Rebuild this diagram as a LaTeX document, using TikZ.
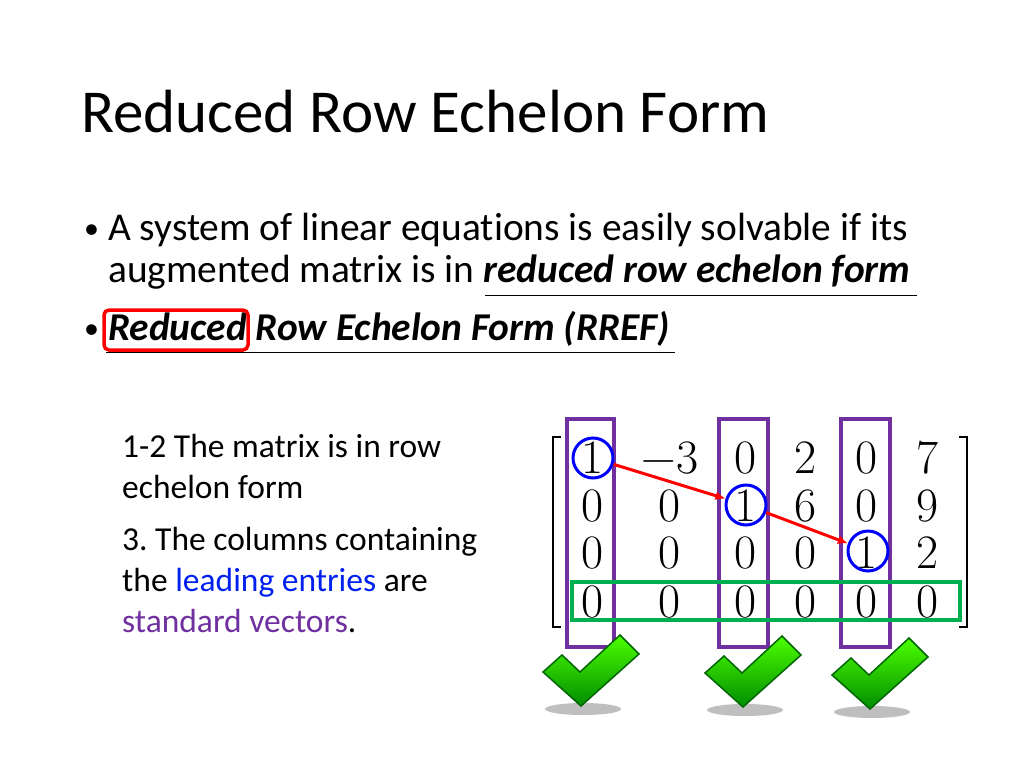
\documentclass[tikz,border=0pt]{standalone}
\usepackage{fontspec}
\setmainfont[Ligatures={NoCommon,NoRare}]{Carlito}
\newfontfamily\mathlike{Latin Modern Roman}
\usetikzlibrary{arrows.meta}
\definecolor{purp}{RGB}{112,48,160}
\definecolor{grn}{RGB}{0,176,80}
\definecolor{lblue}{RGB}{0,32,240}
\frenchspacing
\begin{document}
\begin{tikzpicture}[x=1pt,y=-1pt,
  txt/.style={anchor=base west,inner sep=0pt,font=\fontsize{39.4}{40}\selectfont},
  small/.style={anchor=base west,inner sep=0pt,font=\fontsize{33.5}{34}\selectfont},
  ent/.style={inner sep=0pt,font=\mathlike\fontsize{48}{48}\selectfont},
  colbox/.style={draw=purp,line width=3.5pt},
  circ/.style={draw=blue,line width=3pt,circle,minimum size=40pt,inner sep=0pt},
  arr/.style={draw=red,line width=3pt,-{Latex[length=10pt,width=9pt]}},
  chk/.style={draw=green!40!black,line width=1.5pt,top color=green!70!yellow,bottom color=green!55!black}]
\useasboundingbox[fill=white] (0,0) rectangle (1024,768);
\node[anchor=base west,inner sep=0pt,font=\fontsize{61}{62}\selectfont] (title) at (81,132) {Reduced Row Echelon Form};
\node[anchor=base west,inner sep=0pt,font=\fontsize{30}{30}\selectfont] (b1) at (84,238) {•};
\node[txt] (l1) at (108,240) {A system of linear equations is easily solvable if its};
\node[txt] (l2) at (108,282) {augmented matrix is in \textbf{\textit{reduced row echelon form}}};
\draw[line width=1pt] (485,295) -- (917,295);
\node[anchor=base west,inner sep=0pt,font=\fontsize{30}{30}\selectfont] (b2) at (84,338) {•};
\node[txt] (l3) at (108,340) {\textbf{\textit{Reduced Row Echelon Form (RREF)}}};
\draw[line width=1pt] (106,352) -- (675,352);
\draw[red,line width=3.5pt,rounded corners=5pt] (104,310) rectangle (248,350);
\node[small] (s1) at (122,457) {1-2 The matrix is in row};
\node[small] (s2) at (122,498) {echelon form};
\node[small] (s3) at (122,550) {3. The columns containing};
\node[small] (s4) at (122,591) {the \textcolor{lblue}{leading entries} are};
\node[small] (s5) at (122,632) {\textcolor{purp}{standard vectors}.};
% matrix
\node[ent] (m11) at (593,458) {1};\node[ent] (m12) at (670,458) {−3};\node[ent] (m13) at (746,458) {0};\node[ent] (m14) at (806,458) {2};\node[ent] (m15) at (867,458) {0};\node[ent] (m16) at (927,458) {7};
\node[ent] (m21) at (593,506) {0};\node[ent] (m22) at (670,506) {0};\node[ent] (m23) at (746,506) {1};\node[ent] (m24) at (806,506) {6};\node[ent] (m25) at (867,506) {0};\node[ent] (m26) at (927,506) {9};
\node[ent] (m31) at (593,553) {0};\node[ent] (m32) at (670,553) {0};\node[ent] (m33) at (746,553) {0};\node[ent] (m34) at (806,553) {0};\node[ent] (m35) at (867,553) {1};\node[ent] (m36) at (927,553) {2};
\node[ent] (m41) at (593,602) {0};\node[ent] (m42) at (670,602) {0};\node[ent] (m43) at (746,602) {0};\node[ent] (m44) at (806,602) {0};\node[ent] (m45) at (867,602) {0};\node[ent] (m46) at (927,602) {0};
\draw[line width=2pt] (561,437) -- (553,437) -- (553,627) -- (561,627);
\draw[line width=2pt] (959,437) -- (967,437) -- (967,627) -- (959,627);
\draw[colbox] (567,419) rectangle (614,647);
\draw[colbox] (719,419) rectangle (768,647);
\draw[colbox] (841,419) rectangle (890,647);
\draw[grn,line width=3.5pt] (572,582) rectangle (960,620);
\node[circ] (c1) at (593,458) {};
\node[circ] (c2) at (746,505) {};
\node[circ] (c3) at (868,551) {};
\draw[arr] (c1) -- (c2);
\draw[arr] (c2) -- (c3);
% check marks
\foreach \cx/\cy in {583/682,745/683,872/685}{
  \fill[black!25] (\cx,\cy+27) ellipse (38 and 6);
  \draw[chk] (\cx-40,\cy-10) -- (\cx-21,\cy-27) -- (\cx-3,\cy-10) -- (\cx+37,\cy-47) -- (\cx+56,\cy-28) -- (\cx-2,\cy+24) -- cycle;
}
\end{tikzpicture}
\end{document}
